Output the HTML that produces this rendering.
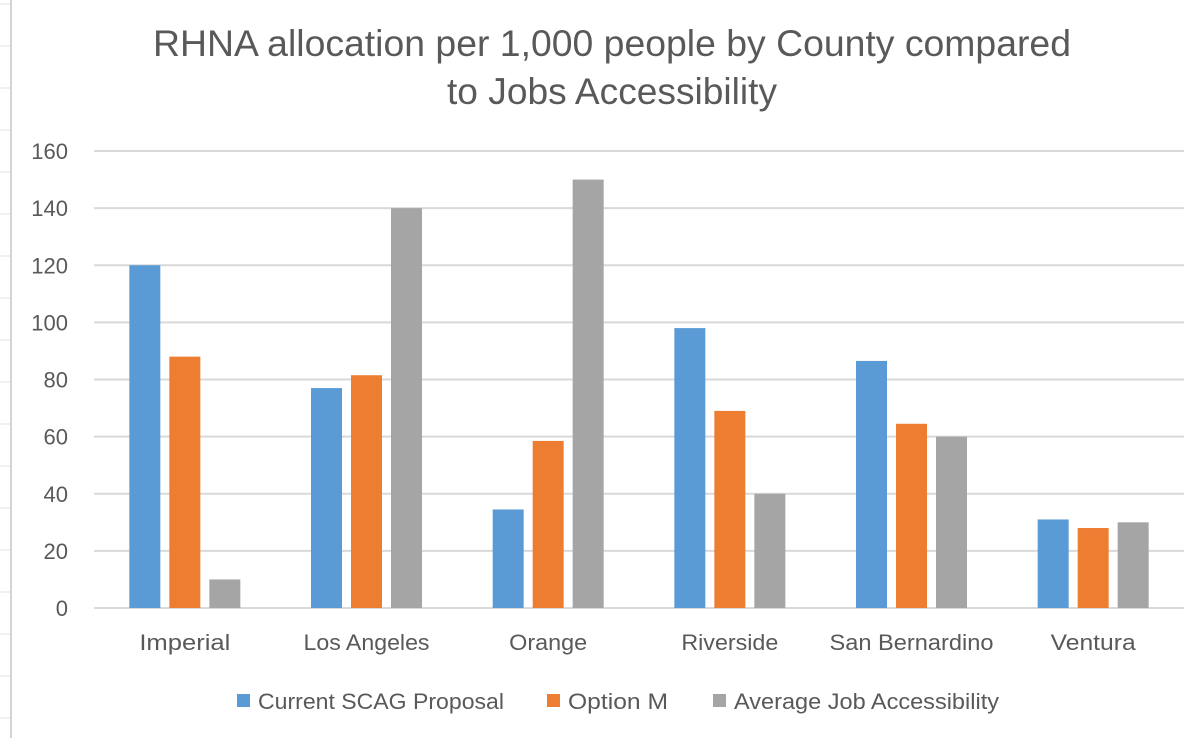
<!DOCTYPE html>
<html><head><meta charset="utf-8"><style>
body{margin:0;background:#fff;}
svg text{font-family:"Liberation Sans",sans-serif;fill:#595959;}
</style></head><body>
<svg id="c" width="1200" height="738" xmlns="http://www.w3.org/2000/svg">
<g id="sheet"></g>
<text x="612" y="56" font-size="37" text-anchor="middle" textLength="918" lengthAdjust="spacingAndGlyphs">RHNA allocation per 1,000 people by County compared</text>
<text x="612" y="104" font-size="37" text-anchor="middle" textLength="330" lengthAdjust="spacingAndGlyphs">to Jobs Accessibility</text>
<g id="grid"></g>
<g id="bars"></g>
<g id="labels"></g>
<g id="legend"></g>
</svg>
<script>
const categories=["Imperial","Los Angeles","Orange","Riverside","San Bernardino","Ventura"];
const seriesNames=["Current SCAG Proposal","Option M","Average Job Accessibility"];
const currentScag=[120,77,34.5,98,86.5,31];
const optionM=[88,81.5,58.5,69,64.5,28];
const jobAccess=[10,140,150,40,60,30];
const yTicks=[0,20,40,60,80,100,120,140,160];
const colors=["#5b9bd5","#ed7d31","#a5a5a5"];
const NS="http://www.w3.org/2000/svg";
const x0=94,x1=1184,yTop=151,yBot=608,yMax=160;
const y=v=>yBot-(v/yMax)*(yBot-yTop);
const bandW=(x1-x0)/categories.length;
const xc=i=>x0+bandW*(i+0.5);
function mk(tag,attrs,parent,txt){const e=document.createElementNS(NS,tag);for(const k in attrs)e.setAttribute(k,attrs[k]);if(txt!==undefined)e.textContent=txt;parent.appendChild(e);return e;}
const sheet=document.getElementById('sheet');
let ln=mk('line',{x1:11,y1:0,x2:11,y2:738,stroke:'#d4d4d4','stroke-width':2},sheet);


for(let yy=4;yy<738;yy+=42){const r=mk('line',{x1:0,y1:yy,x2:10,y2:yy,stroke:'#e0e0e0','stroke-width':1},sheet);

}
const grid=document.getElementById('grid'),labels=document.getElementById('labels');
yTicks.forEach(t=>{const g=mk('line',{x1:x0,y1:y(t),x2:x1,y2:y(t),stroke:'#d9d9d9','stroke-width':2},grid);


const tl=mk('text',{x:68,y:y(t)+8,'font-size':22,'text-anchor':'end'},labels,String(t));

});
const bars=document.getElementById('bars');
const series=[currentScag,optionM,jobAccess];
const bw=31,step=40;
const catW=[91,126,78,97,164,85];
categories.forEach((c,i)=>{series.forEach((s,j)=>{const bx=xc(i)-bw/2+(j-1)*step;
const b=mk('rect',{x:bx,y:y(s[i]),width:bw,height:yBot-y(s[i]),fill:colors[j]},bars);

});
const cl=mk('text',{x:xc(i),y:650,'font-size':22,'text-anchor':'middle',textLength:catW[i],lengthAdjust:'spacingAndGlyphs'},labels,c);

});
const legend=document.getElementById('legend');
const lx=[237,547,713];
const lw=[246,100,265];
seriesNames.forEach((n,j)=>{const s=mk('rect',{x:lx[j],y:694,width:13,height:13,fill:colors[j]},legend);


const t=mk('text',{x:lx[j]+21,y:709,'font-size':22,textLength:lw[j],lengthAdjust:'spacingAndGlyphs'},legend,n);

});
</script>
</body></html>
